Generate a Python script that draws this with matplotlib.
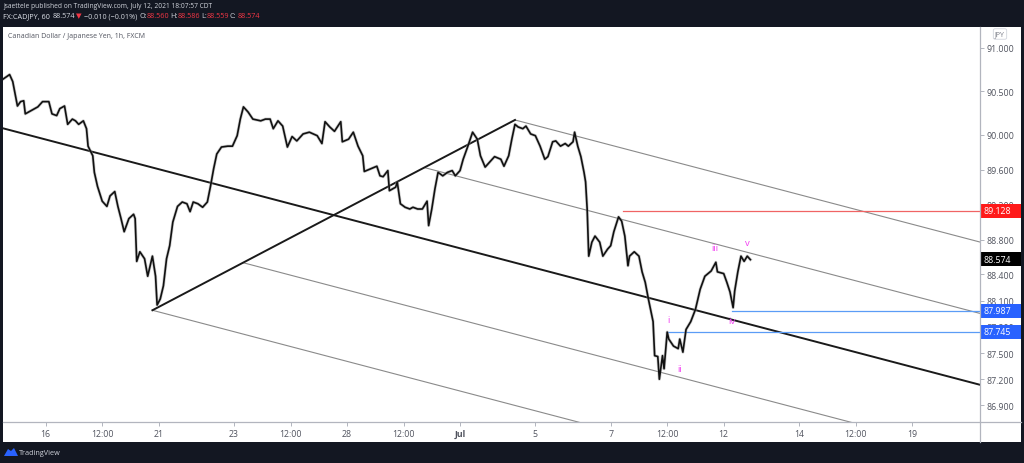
import matplotlib
matplotlib.use("Agg")
import matplotlib.pyplot as plt
from matplotlib.patches import Rectangle, Polygon
from matplotlib.transforms import blended_transform_factory
from matplotlib.lines import Line2D

plt.rcParams['font.family'] = ['Open Sans', 'DejaVu Sans']

# ---------------- data (hourly bar index from Jun 16 00:00, close price) -------------
bar_index = [-27, -23, -21, -18, -16, -14, -13, -10, -5, -2, 2, 4, 7, 9, 12, 14, 17, 19, 21, 24,
             26, 27, 30, 31, 33, 36, 39, 41, 44, 46, 48, 50, 53, 56, 57, 58, 60, 63, 65, 68,
             70, 71, 73, 75, 77, 79, 81, 84, 87, 90, 92, 94, 97, 100, 103, 105, 107, 109, 112, 116,
             119, 122, 124, 126, 129, 132, 137, 140, 143, 145, 148, 151, 154, 157, 160, 164, 168, 173, 176, 178,
             181, 184, 188, 189, 193, 196, 199, 202, 203, 207, 211, 213, 215, 218, 219, 223, 224, 226, 229, 232,
             234, 237, 240, 243, 244, 246, 248, 250, 253, 256, 259, 261, 264, 266, 269, 272, 275, 277, 280, 283,
             286, 290, 292, 295, 297, 299, 301, 304, 306, 309, 312, 315, 318, 320, 323, 325, 328, 331, 333, 336,
             337, 339, 341, 343, 344, 345, 346, 348, 350, 353, 355, 358, 360, 362, 365, 367, 369, 371, 372, 375,
             378, 380, 382, 384, 387, 388, 390, 391, 393, 394, 396, 397, 400, 403, 404, 406, 408, 411, 414, 417,
             420, 424, 427, 428, 432, 434, 436, 438, 439, 441, 443, 445, 447, 449]
close = [90.64, 90.69, 90.61, 90.33, 90.38, 90.39, 90.24, 90.27, 90.32, 90.38, 90.38, 90.24, 90.22, 90.30, 90.33, 90.12, 90.18, 90.16, 90.12, 90.16,
         90.07, 89.87, 89.76, 89.57, 89.41, 89.24, 89.18, 89.30, 89.35, 89.18, 89.04, 88.89, 89.04, 89.09, 89.04, 88.55, 88.66, 88.58, 88.38, 88.61,
         88.38, 88.05, 88.12, 88.27, 88.58, 88.73, 89.00, 89.18, 89.23, 89.21, 89.12, 89.23, 89.21, 89.17, 89.23, 89.41, 89.61, 89.78, 89.86, 89.87,
         89.87, 89.99, 90.18, 90.32, 90.26, 90.18, 90.16, 90.18, 90.18, 90.07, 90.16, 90.10, 89.86, 89.98, 89.93, 90.01, 90.03, 89.99, 89.90, 90.15,
         90.09, 90.04, 90.15, 89.92, 89.95, 90.03, 89.87, 89.76, 89.58, 89.61, 89.64, 89.53, 89.52, 89.59, 89.36, 89.40, 89.46, 89.21, 89.17, 89.15,
         89.17, 89.15, 89.15, 89.24, 88.96, 89.15, 89.38, 89.57, 89.53, 89.57, 89.59, 89.53, 89.59, 89.72, 89.87, 90.03, 89.95, 89.76, 89.63, 89.69,
         89.75, 89.72, 89.64, 89.76, 89.95, 90.12, 90.09, 90.07, 90.10, 90.01, 89.99, 89.87, 89.72, 89.75, 89.92, 89.93, 89.87, 89.90, 89.87, 89.92,
         90.03, 89.87, 89.75, 89.57, 89.46, 89.15, 88.61, 88.77, 88.84, 88.77, 88.61, 88.69, 88.73, 88.89, 89.06, 89.01, 88.84, 88.50, 88.61, 88.66,
         88.61, 88.43, 88.31, 88.12, 87.86, 87.47, 87.46, 87.20, 87.47, 87.32, 87.74, 87.66, 87.58, 87.55, 87.66, 87.51, 87.77, 87.86, 88.00, 88.23,
         88.38, 88.44, 88.54, 88.43, 88.41, 88.31, 88.20, 88.02, 88.21, 88.43, 88.61, 88.55, 88.61, 88.57]

x_tick_bars = [0, 36, 72, 120, 156, 192, 228, 264, 312, 360, 396, 432, 480, 516, 552]
x_tick_labels = ['16', '12:00', '21', '23', '12:00', '28', '12:00', 'Jul', '5', '7',
                 '12:00', '12', '14', '12:00', '19']
y_ticks = [91.0, 90.5, 90.0, 89.6, 89.2, 88.8, 88.4, 88.1, 87.8, 87.5, 87.2, 86.9]

# pitchfork-like fan of parallel lines anchored on segment A-B
pivot_a = (68, 87.99)
pivot_b = (299, 90.17)
fork_slope = -0.00472          # price per bar
fork_levels = [0.0, 0.25, 0.5, 0.75, 1.0]

red_level = (368, 89.128)
blue_levels = [(437, 87.987), (396, 87.745)]
last_price = 88.574

wave_labels = ['i', 'ii', 'iii', 'iv', 'v']
wave_bars = [396.6, 404.2, 426.5, 437.3, 446.9]
wave_prices = [87.88, 87.32, 88.71, 87.87, 88.77]

# ---------------- figure --------------------------------------------------------------
W, H = 1024, 464
fig = plt.figure(figsize=(W / 100, H / 100), dpi=100, facecolor='#131722')


def fx(px):
    return px / W


def fy(py):
    return 1 - py / H


# white chart panel
fig.patches.append(Rectangle((fx(3), fy(443)), (1021 - 3) / W, (443 - 28) / H,
                             transform=fig.transFigure, facecolor='white',
                             edgecolor='none', zorder=-5))

ax = fig.add_axes([fx(3), fy(423), (980 - 3) / W, (423 - 28) / H])
ax.set_zorder(1)
ax.set_facecolor('white')
XMIN, XMAX = -27.2, 595.3
ax.set_xlim(XMIN, XMAX)
ax.set_ylim(86.71, 91.235)
for s in ax.spines.values():
    s.set_visible(False)

axis_col = '#b2b5be'
fig.lines.append(Line2D([fx(980), fx(980)], [fy(28), fy(443)], transform=fig.transFigure,
                        color=axis_col, lw=0.9, zorder=2))
fig.lines.append(Line2D([fx(3), fx(1021)], [fy(423), fy(423)], transform=fig.transFigure,
                        color=axis_col, lw=0.9, zorder=2))

# ticks
ax.yaxis.tick_right()
ax.set_yticks(y_ticks)
ax.set_yticklabels([f'{v:.3f}' for v in y_ticks])
ax.tick_params(axis='y', length=3, width=0.7, color=axis_col, labelsize=6.3,
               labelcolor='#50535e', pad=2)
ax.set_xticks(x_tick_bars)
ax.set_xticklabels(x_tick_labels)
ax.tick_params(axis='x', length=3, width=0.7, color=axis_col, labelsize=6.3,
               labelcolor='#50535e', pad=2)
for i, lab in enumerate(ax.get_xticklabels()):
    if x_tick_labels[i] == 'Jul':
        lab.set_fontweight('bold')

# fan lines
ax_, ay_ = pivot_a
bx_, by_ = pivot_b
for f in fork_levels:
    x0 = ax_ + f * (bx_ - ax_)
    y0 = ay_ + f * (by_ - ay_)
    xs = XMIN if f == 0.5 else x0
    ys = y0 + fork_slope * (xs - x0)
    ye = y0 + fork_slope * (XMAX - x0)
    if f == 0.5:
        ax.plot([xs, XMAX], [ys, ye], color='#1a1a1a', lw=1.4, zorder=3)
    else:
        ax.plot([xs, XMAX], [ys, ye], color='#8a8a8a', lw=0.8, zorder=3)
ax.plot([ax_, bx_], [ay_, by_], color='#1a1a1a', lw=1.4, zorder=3)

# horizontal levels
ax.plot([red_level[0], XMAX], [red_level[1]] * 2, color='#f06464', lw=0.9, zorder=3)
for b, p in blue_levels:
    ax.plot([b, XMAX], [p, p], color='#5b9cf6', lw=0.9, zorder=3)

# price
ax.plot(bar_index, close, color='#9a9a9a', lw=2.2, alpha=0.5, zorder=4)
ax.plot(bar_index, close, color='#111111', lw=1.2, zorder=5)

# wave labels
for t, b, p in zip(wave_labels, wave_bars, wave_prices):
    ax.text(b, p, t, color='#f23cf2', fontsize=6.8, ha='center', va='center', zorder=6)

# price boxes on the right axis
tr = blended_transform_factory(ax.transAxes, ax.transData)
box_w = 41 / 977
box_h = 14 / 87.3
for p, col in [(red_level[1], '#ff1a1a'), (last_price, '#000000'),
               (blue_levels[0][1], '#2962ff'), (blue_levels[1][1], '#2962ff')]:
    ax.add_patch(Rectangle((1.0, p - box_h / 2), box_w, box_h, transform=tr,
                           facecolor=col, edgecolor='none', clip_on=False, zorder=10))
    ax.text(1.0 + 4 / 977, p, f'{p:.3f}', transform=tr, color='white', fontsize=6.3,
            ha='left', va='center', clip_on=False, zorder=11)

# JPY box
fig.text(fx(1000), fy(35), 'JPY', color='#787b86', fontsize=5, ha='center', va='center',
         bbox=dict(boxstyle='round,pad=0.25', facecolor='white', edgecolor='#d1d4dc', lw=0.6))

# chart title
fig.text(fx(8), fy(36), 'Canadian Dollar / Japanese Yen, 1h, FXCM', color='#50535e',
         fontsize=5, ha='left', va='center')

# header
fig.text(fx(3), fy(7), 'jsaettele published on TradingView.com, July 12, 2021 18:07:57 CDT',
         color='#d1d4dc', fontsize=4.8, ha='left', va='center')
hdr = [(3, 'FX:CADJPY, 60', '#e0e3eb'), (53, '88.574', '#d1d4dc'), (76, '▼', '#f23645'),
       (84, '−0.010 (−0.01%)', '#d1d4dc'), (139, 'O:', '#d1d4dc'), (147, '88.560', '#f23645'),
       (170, 'H:', '#d1d4dc'), (178, '88.586', '#f23645'), (201, 'L:', '#d1d4dc'),
       (207, '88.559', '#f23645'), (230, 'C:', '#d1d4dc'), (238, '88.574', '#f23645')]
for x, t, c in hdr:
    fig.text(fx(x), fy(17), t, color=c, fontsize=5.2, ha='left', va='center')

# footer logo
fig.patches.append(Polygon([[fx(4), fy(457)], [fx(8), fy(450)], [fx(11), fy(452)],
                            [fx(14), fy(449)], [fx(18), fy(457)]], closed=True,
                           transform=fig.transFigure, facecolor='#2962ff', edgecolor='none'))
fig.text(fx(19), fy(454), 'TradingView', color='#d1d4dc', fontsize=5.2, ha='left', va='center')

fig.savefig('out.png', dpi=100, facecolor=fig.get_facecolor())
